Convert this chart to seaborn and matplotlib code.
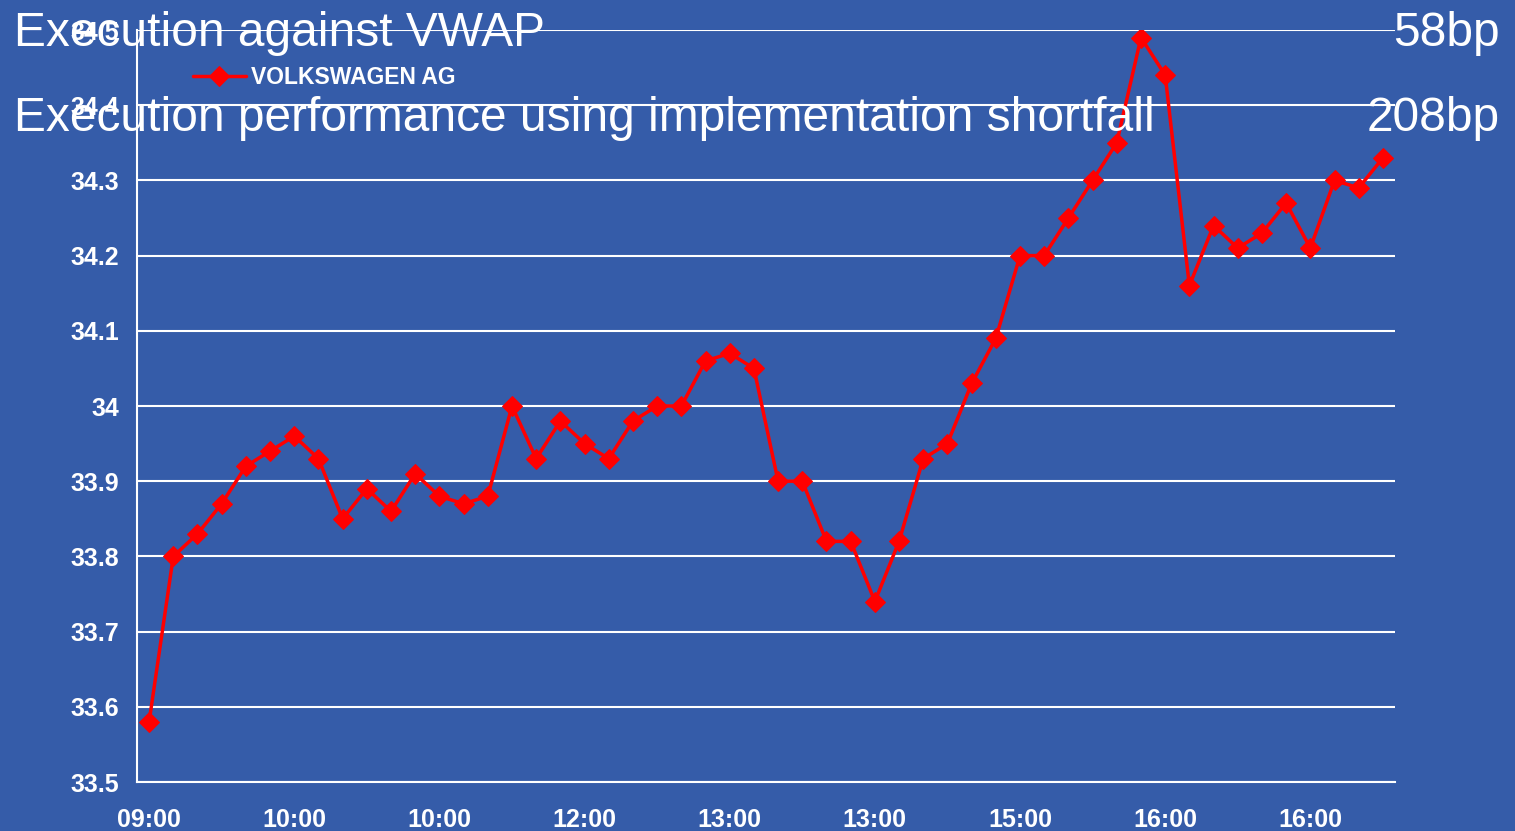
import numpy as np
import pandas as pd
import matplotlib.pyplot as plt
import seaborn as sns

bg = "#355CA9"
sns.set_style("whitegrid", {"axes.facecolor": bg, "figure.facecolor": bg,
                            "grid.color": "white", "axes.edgecolor": "white"})
plt.rcParams['font.family'] = ['Liberation Sans', 'DejaVu Sans']

# --- data ---
prices = [33.58, 33.80, 33.83, 33.87, 33.92, 33.94, 33.96, 33.93, 33.85, 33.89,
          33.86, 33.91, 33.88, 33.87, 33.88, 34.00, 33.93, 33.98, 33.95, 33.93,
          33.98, 34.00, 34.00, 34.06, 34.07, 34.05, 33.90, 33.90, 33.82, 33.82,
          33.74, 33.82, 33.93, 33.95, 34.03, 34.09, 34.20, 34.20, 34.25, 34.30,
          34.35, 34.49, 34.44, 34.16, 34.24, 34.21, 34.23, 34.27, 34.21, 34.30,
          34.29, 34.33]
time_labels = ["09:00", "10:00", "10:00", "12:00", "13:00", "13:00", "15:00", "16:00", "16:00"]
label_every = 6
series_name = "VOLKSWAGEN AG"
metric_names = ["Execution against VWAP", "Execution performance using implementation shortfall"]
metric_values = ["58bp", "208bp"]

df = pd.DataFrame({"slot": range(len(prices)), "price": prices})

fig = plt.figure(figsize=(15.15, 8.31), dpi=100)
ax = fig.add_axes([137/1515, 1 - 782/831, (1395 - 137)/1515, (782 - 30)/831])

sns.lineplot(data=df, x="slot", y="price", color="#FF0000", marker="D", markersize=10,
             markeredgecolor="#FF0000", linewidth=2.5, label=series_name, ax=ax)

ax.set_xlim(-0.5, len(prices) - 0.5)
ax.set_ylim(33.5, 34.5)
yt = np.round(np.arange(33.5, 34.51, 0.1), 1)
ax.set_yticks(yt)
ax.set_yticklabels([f"{v:g}" for v in yt])

# tick marks on category boundaries, labels on the category centres
ax.set_xticks(np.arange(-0.5, len(prices) - 1, label_every))
ax.set_xticklabels([])
ax.set_xticks(np.arange(0, len(time_labels) * label_every, label_every), minor=True)
ax.set_xticklabels(time_labels, minor=True)
ax.tick_params(axis="x", which="major", length=5, width=1.5, color="white", direction="out")
ax.tick_params(axis="x", which="minor", length=0, pad=19)
ax.tick_params(axis="y", length=5, width=1.5, color="white", direction="out", pad=8)
tick_font = ['Liberation Sans Narrow', 'Liberation Sans']
for lab in ax.get_xticklabels(minor=True) + ax.get_yticklabels():
    lab.set_family(tick_font)
    lab.set_fontsize(18)
    lab.set_fontweight("bold")
    lab.set_color("white")

ax.grid(axis="y", color="white", linewidth=1.5)
ax.grid(axis="x", visible=False)
ax.set_xlabel("")
ax.set_ylabel("")
for side in ["top", "right"]:
    ax.spines[side].set_visible(False)
for side in ["left", "bottom"]:
    ax.spines[side].set_color("white")
    ax.spines[side].set_linewidth(1.5)

leg = ax.legend(loc="center left", bbox_to_anchor=(193/1515, 1 - 78/831),
                bbox_transform=fig.transFigure, frameon=False, handlelength=2.3,
                handletextpad=0.25, borderpad=0, borderaxespad=0,
                prop=dict(weight="bold", size=16.5))
for t in leg.get_texts():
    t.set_color("white")

for i, (name, val) in enumerate(zip(metric_names, metric_values)):
    yb = 1 - (46 + 85 * i)/831
    fig.text(14/1515, yb, name, fontsize=34.5, color="white", va="baseline", ha="left")
    fig.text(1500/1515, yb, val, fontsize=34.5, color="white", va="baseline", ha="right")

fig.savefig("out.png", dpi=100, facecolor=bg)
